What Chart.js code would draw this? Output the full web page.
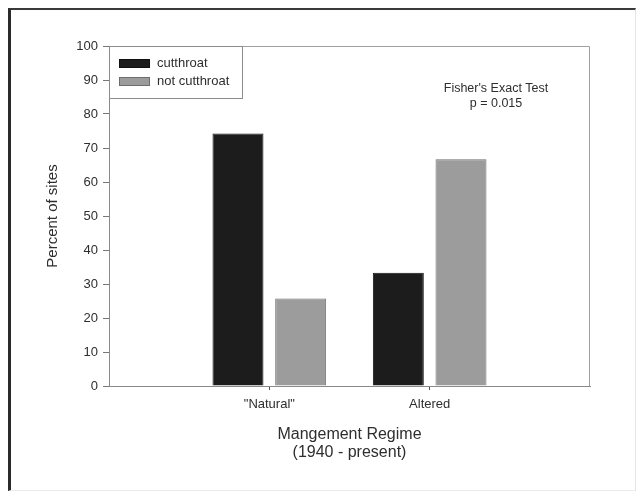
<!DOCTYPE html>
<html>
<head>
<meta charset="utf-8">
<script src="https://cdn.jsdelivr.net/npm/chart.js@4.4.1/dist/chart.umd.min.js"></script>
<style>
  html, body { margin: 0; padding: 0; background: #fff; }
  #wrap { position: relative; width: 636px; height: 493px; }
  #frame { position: absolute; left: 8px; top: 8px; right: 0; bottom: 2px;
           border-left: 3px solid #2b2b2b; border-top: 2px solid #3a3a3a;
           border-right: 1px solid #e4e4e4; border-bottom: 1px solid #ececec;
           pointer-events: none; }
  canvas { position: absolute; left: 0; top: 0; }
</style>
</head>
<body>
<div id="wrap">
  <canvas id="c" width="636" height="493"></canvas>
  <div id="frame"></div>
</div>
<script>
// Management regimes and percent of sites with / without cutthroat trout
const categories = ['"Natural"', 'Altered'];
const cutthroat = [74.3, 33.3];
const notCutthroat = [25.7, 66.7];
const seriesNames = ['cutthroat', 'not cutthroat'];
const yTicks = [0, 10, 20, 30, 40, 50, 60, 70, 80, 90, 100];
const xTitle = ['Mangement Regime', '(1940 - present)'];
const yTitle = 'Percent of sites';
const testNote = ["Fisher's Exact Test", 'p = 0.015'];

// blank slots on each side so the two groups sit at 1/3 and 2/3 of the axis
const labels = [''].concat(categories, ['']);
const pad = arr => [null].concat(arr, [null]);

const FONT = 'Liberation Sans, Arial, Helvetica, sans-serif';
const TEXT = '#2e2e2e';
const AXIS = '#8a8a8a';

const decorations = {
  id: 'decorations',
  afterDraw(chart) {
    const { ctx, chartArea: a } = chart;
    ctx.save();
    // box around the plotting area
    ctx.strokeStyle = '#a0a0a0';
    ctx.lineWidth = 1;
    ctx.beginPath();
    ctx.moveTo(a.left, a.top + 0.5);
    ctx.lineTo(a.right - 0.5, a.top + 0.5);
    ctx.lineTo(a.right - 0.5, a.bottom);
    ctx.stroke();

    // legend in the upper-left corner
    const lx = a.left, ly = a.top, lw = 133, lh = 52;
    ctx.fillStyle = '#fff';
    ctx.fillRect(lx, ly, lw, lh);
    ctx.strokeStyle = '#8c8c8c';
    ctx.strokeRect(lx + 0.5, ly + 0.5, lw, lh);
    ctx.font = '13px ' + FONT;
    ctx.textBaseline = 'middle';
    ctx.textAlign = 'left';
    chart.data.datasets.forEach((ds, i) => {
      const cy = ly + 17.5 + i * 18;
      ctx.fillStyle = ds.backgroundColor;
      ctx.fillRect(lx + 10, cy - 4.5, 31, 9);
      ctx.strokeStyle = ds.borderColor;
      ctx.strokeRect(lx + 10.5, cy - 4, 30, 8);
      ctx.fillStyle = TEXT;
      ctx.fillText(ds.label, lx + 48, cy);
    });

    // statistical test note
    ctx.textAlign = 'center';
    ctx.font = '12.5px ' + FONT;
    ctx.fillText(testNote[0], 496, 89);
    ctx.fillText(testNote[1], 496, 104);

    // axis titles
    ctx.font = '16px ' + FONT;
    const cx = (a.left + a.right) / 2;
    ctx.fillText(xTitle[0], cx, 435);
    ctx.fillText(xTitle[1], cx, 453);
    ctx.font = '15px ' + FONT;
    ctx.translate(53, (a.top + a.bottom) / 2);
    ctx.rotate(-Math.PI / 2);
    ctx.fillText(yTitle, 0, 0);
    ctx.restore();
  }
};

new Chart(document.getElementById('c'), {
  type: 'bar',
  data: {
    labels: labels,
    datasets: [
      { label: seriesNames[0], data: pad(cutthroat),
        backgroundColor: '#1c1c1c', borderColor: '#111', borderWidth: 1 },
      { label: seriesNames[1], data: pad(notCutthroat),
        backgroundColor: '#9c9c9c', borderColor: '#6e6e6e', borderWidth: 1 }
    ]
  },
  options: {
    responsive: false,
    animation: false,
    events: [],
    categoryPercentage: 0.782,
    barPercentage: 0.813,
    layout: { padding: { left: 0, top: 46, right: 46, bottom: 0 } },
    plugins: { legend: { display: false }, tooltip: { enabled: false }, title: { display: false } },
    scales: {
      x: {
        offset: false,
        grid: {
          offset: false,
          drawOnChartArea: false, drawTicks: true, tickLength: 4,
          color: c => (c.index === 1 || c.index === 2) ? '#555' : 'rgba(0,0,0,0)'
        },
        border: { color: AXIS, width: 1 },
        ticks: { color: TEXT, font: { family: FONT, size: 13 }, padding: 7, maxRotation: 0, autoSkip: false },
        afterFit: s => { s.height = 493 - 386; }
      },
      y: {
        min: 0, max: 100,
        afterBuildTicks: s => { s.ticks = yTicks.map(v => ({ value: v })); },
        grid: { drawOnChartArea: false, drawTicks: true, tickLength: 6, color: '#777' },
        border: { color: AXIS, width: 1 },
        ticks: { color: TEXT, font: { family: FONT, size: 13 }, padding: 5 },
        afterFit: s => { s.width = 109; }
      }
    }
  },
  plugins: [decorations]
});
</script>
</body>
</html>
